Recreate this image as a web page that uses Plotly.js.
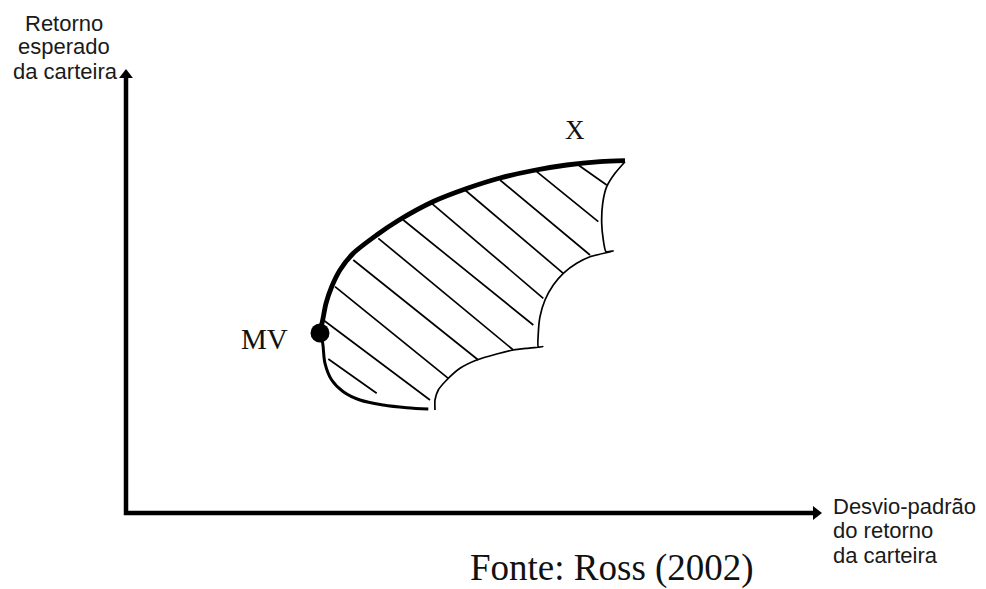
<!DOCTYPE html>
<html><head><meta charset="utf-8">
<script src="https://cdn.plot.ly/plotly-3.0.1.min.js"></script>
<style>html,body{margin:0;padding:0;background:#fff}#chart{width:986px;height:589px}</style>
</head><body><div id="chart"></div>
<script>
// Efficient frontier (thick), from MV up to X
const upperSigma = [19.4, 19.67, 20.0, 20.57, 21.4, 22.73, 25.07, 27.23, 30.73, 34.07, 37.4, 40.73, 44.07, 47.4, 49.9];
const upperRet   = [18.1, 19.3, 20.97, 22.63, 24.3, 25.97, 27.8, 29.25, 31.15, 32.45, 33.5, 34.25, 34.8, 35.13, 35.23];
// Lower part of the boundary, below MV
const lowerSigma = [19.4, 19.67, 19.9, 20.57, 21.73, 23.4, 25.73, 28.07, 30.23];
const lowerRet   = [17.97, 16.97, 14.97, 13.3, 12.13, 11.3, 10.8, 10.53, 10.4];
// Scalloped right/lower boundary of the feasible set
const edgeSigma = [49.9, 48.9, 48.07, 47.67, 47.57, 47.73, 48.0, 48.73, 46.4, 45.07, 43.73, 42.73, 41.9, 41.4, 41.23, 41.23, 41.67, 40.07, 38.73, 37.07, 35.07, 33.4, 32.07, 31.23, 30.9, 30.9];
const edgeRet   = [35.13, 33.97, 32.63, 30.97, 28.97, 27.3, 26.13, 26.2, 25.63, 24.97, 23.97, 22.8, 21.3, 19.63, 17.97, 16.63, 16.63, 16.47, 16.3, 15.9, 15.3, 14.47, 13.3, 12.3, 11.3, 10.3];
// Hatching segments (start/end)
const hatchSigma0 = [45.23, 41.07, 37.4, 33.9, 30.57, 27.73, 25.23, 22.73, 20.9, 19.73, 20.23];
const hatchRet0   = [34.8, 34.13, 33.3, 32.3, 30.97, 29.3, 27.47, 25.3, 22.63, 19.3, 15.4];
const hatchSigma1 = [48.07, 47.23, 46.4, 43.73, 41.73, 40.73, 38.73, 35.23, 32.23, 30.4, 25.07];
const hatchRet1   = [32.8, 29.13, 25.8, 23.97, 21.47, 18.8, 16.3, 15.3, 13.47, 11.3, 11.97];
// Minimum-variance point
const mvSigma = [19.4];
const mvRet = [18.0];
// Axes: corner at origin, arrow tips
const axisX = [0, 0, 69.0];
const axisY = [43.8, 0, 0];

const hx = [], hy = [];
for (let i = 0; i < hatchSigma0.length; i++) {
  hx.push(hatchSigma0[i], hatchSigma1[i], null);
  hy.push(hatchRet0[i], hatchRet1[i], null);
}

const black = '#000';
const traces = [
  {x: hx, y: hy, mode: 'lines', line: {color: black, width: 1.7}, hoverinfo: 'skip'},
  {x: edgeSigma, y: edgeRet, mode: 'lines', line: {color: black, width: 1.7, shape: 'spline', smoothing: 0.6}, hoverinfo: 'skip'},
  {x: lowerSigma, y: lowerRet, mode: 'lines', line: {color: black, width: 3, shape: 'spline'}, hoverinfo: 'skip'},
  {x: upperSigma, y: upperRet, mode: 'lines', line: {color: black, width: 4.8, shape: 'spline', smoothing: 0.8}, hoverinfo: 'skip'},
  {x: axisX, y: axisY, mode: 'lines', line: {color: black, width: 4.5}, hoverinfo: 'skip'},
  {x: [axisX[0]], y: [axisY[0]], mode: 'markers', marker: {symbol: 'triangle-up', size: 12, color: black}, hoverinfo: 'skip'},
  {x: [axisX[2]], y: [axisY[2]], mode: 'markers', marker: {symbol: 'triangle-right', size: 12, color: black}, hoverinfo: 'skip'},
  {x: mvSigma, y: mvRet, mode: 'markers', marker: {symbol: 'circle', size: 19, color: black}, hoverinfo: 'skip'}
];

const W = 986, H = 589;
const px = v => v / W, py = v => 1 - v / H;
const sans = {family: 'Liberation Sans, Arial, sans-serif', size: 22, color: '#1a1a1a'};
const serif = {family: 'Liberation Serif, Times New Roman, serif', color: '#111'};
function ann(text, x, y, font, xanchor) {
  return {text: text, x: px(x), y: py(y), xref: 'paper', yref: 'paper', showarrow: false,
          xanchor: xanchor || 'center', yanchor: 'middle', font: font};
}
const annotations = [
  ann('Retorno', 64, 23, sans),
  ann('esperado', 64, 47, sans),
  ann('da carteira', 65, 71, sans),
  ann('Desvio-padrão', 831, 506, sans, 'left'),
  ann('do retorno', 831, 530, sans, 'left'),
  ann('da carteira', 831, 555, sans, 'left'),
  ann('X', 575, 130, Object.assign({}, serif, {size: 27})),
  ann('MV', 264, 339, Object.assign({}, serif, {size: 29})),
  ann('Fonte: Ross (2002)', 612, 568, Object.assign({}, serif, {size: 37}))
];

const layout = {
  width: W, height: H,
  margin: {l: 0, r: 0, t: 0, b: 0},
  paper_bgcolor: '#fff', plot_bgcolor: '#fff',
  showlegend: false,
  xaxis: {range: [-12.6, 86.0], visible: false, fixedrange: true},
  yaxis: {range: [-7.6, 51.3], visible: false, fixedrange: true},
  annotations: annotations
};
Plotly.newPlot('chart', traces, layout, {staticPlot: true});
</script></body></html>
